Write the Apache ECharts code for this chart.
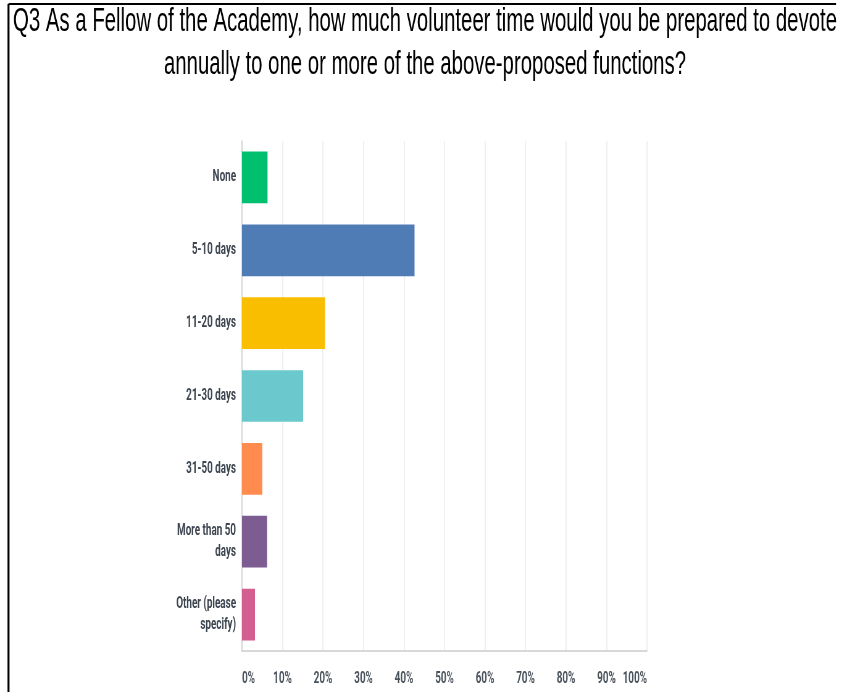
<!DOCTYPE html>
<html>
<head>
<meta charset="utf-8">
<script src="https://cdn.jsdelivr.net/npm/echarts@6/dist/echarts.min.js"></script>
<style>
html, body { margin: 0; padding: 0; background: #fff; overflow: hidden; width: 841px; height: 692px; }
#wrap { position: absolute; left: 0; top: 0; height: 692px; transform-origin: 0 0; }
</style>
</head>
<body>
<div id="wrap"></div>
<script>
const titleLines = [
  'Q3 As a Fellow of the Academy, how much volunteer time would you be prepared to devote',
  'annually to one or more of the above-proposed functions?'
];
const categories = ['None', '5-10 days', '11-20 days', '21-30 days', '31-50 days', 'More than 50\ndays', 'Other (please\nspecify)'];
const values = [6.3, 42.6, 20.5, 15.1, 5.0, 6.2, 3.2];
const barColors = ['#00bf6f', '#507cb6', '#f9be00', '#6bc8cd', '#ff8b4f', '#7d5c92', '#d25f90'];

// The reference image is horizontally condensed; render wider then squeeze.
const TITLE_SIZE = 33;
const mctx = document.createElement('canvas').getContext('2d');
mctx.font = TITLE_SIZE + 'px "Liberation Sans"';
const s = 824 / mctx.measureText(titleLines[0]).width;
const W = 841 / s;
const wrap = document.getElementById('wrap');
wrap.style.width = W + 'px';
wrap.style.transform = 'scaleX(' + s + ')';

const chart = echarts.init(wrap, null, { renderer: 'canvas', width: W, height: 692 });
const option = {
  backgroundColor: '#fff',
  animation: false,
  title: {
    text: titleLines.join('\n'),
    left: 425 / s,
    top: 0,
    padding: 0,
    textAlign: 'center',
    textStyle: { fontFamily: '"Liberation Sans", Arial, sans-serif', fontSize: TITLE_SIZE, fontWeight: 'normal', color: '#000', lineHeight: 43 }
  },
  graphic: [
    { type: 'line', shape: { x1: 8.5 / s, y1: 4, x2: 8.5 / s, y2: 692 }, style: { stroke: '#000', lineWidth: 2 / s } },
    { type: 'line', shape: { x1: 8.5 / s, y1: 4, x2: 836 / s, y2: 4 }, style: { stroke: '#000', lineWidth: 2 } }
  ],
  grid: { left: 242 / s, right: 194 / s, top: 141, bottom: 41, containLabel: false },
  xAxis: {
    type: 'value', min: 0, max: 100, interval: 10,
    axisLine: { show: true, lineStyle: { color: '#cccccc', width: 1.5 } },
    axisTick: { show: false },
    splitLine: { show: true, lineStyle: { color: '#ececec', width: 1.6 } },
    axisLabel: {
      formatter: '{value}%', margin: 20,
      fontFamily: 'Roboto, sans-serif', fontSize: 16, fontWeight: 'bold', color: '#4a525c',
      alignMinLabel: 'left', alignMaxLabel: 'right'
    }
  },
  yAxis: {
    type: 'category', data: categories, inverse: true,
    axisLine: { show: true, lineStyle: { color: '#cccccc', width: 1.5 } },
    axisTick: { show: false },
    splitLine: { show: false },
    axisLabel: {
      margin: 6 / s, fontFamily: 'Roboto, sans-serif', fontSize: 16, fontWeight: 'bold',
      color: '#3d4550', lineHeight: 21, align: 'right'
    }
  },
  series: [{
    type: 'bar',
    data: values.map((v, i) => ({ value: v, itemStyle: { color: barColors[i] } })),
    barWidth: '71%',
    itemStyle: { borderWidth: 0 }
  }]
};
chart.setOption(option);
</script>
</body>
</html>
